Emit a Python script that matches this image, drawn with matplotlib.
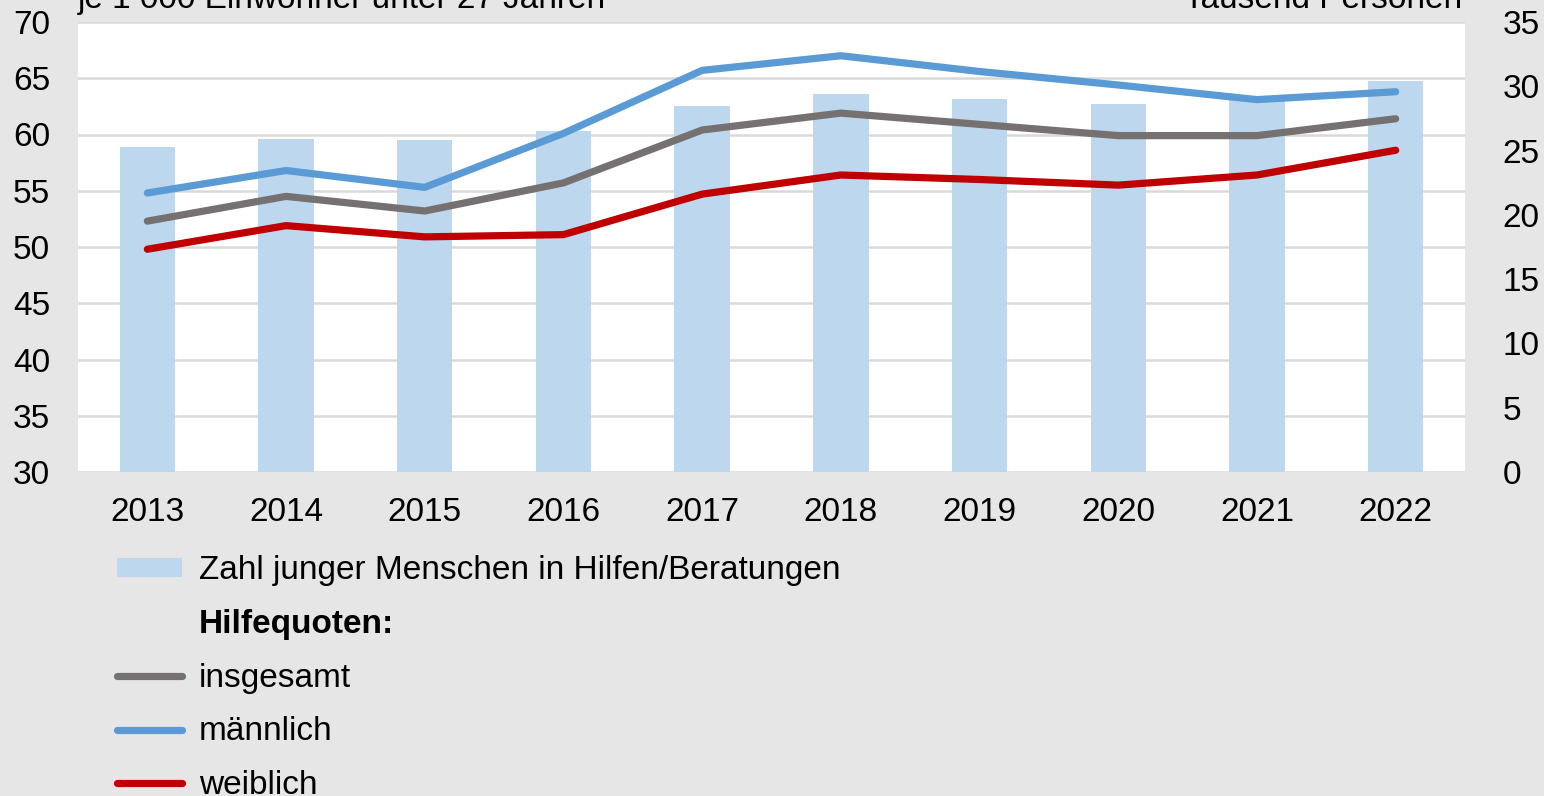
import matplotlib.pyplot as plt
from matplotlib.lines import Line2D
from matplotlib.patches import Patch
import numpy as np

plt.rcParams['font.family'] = ['Liberation Sans', 'DejaVu Sans']

# data
years = ['2013', '2014', '2015', '2016', '2017', '2018', '2019', '2020', '2021', '2022']
anzahl = [25.3, 25.9, 25.8, 26.5, 28.5, 29.4, 29.0, 28.6, 29.0, 30.4]   # Tausend Personen
insgesamt = [52.3, 54.5, 53.2, 55.7, 60.4, 61.9, 60.9, 59.9, 59.9, 61.4]
maennlich = [54.8, 56.8, 55.3, 60.1, 65.7, 67.0, 65.6, 64.4, 63.1, 63.8]
weiblich = [49.8, 51.9, 50.9, 51.1, 54.7, 56.4, 56.0, 55.5, 56.4, 58.6]

bg = '#e6e6e6'
c_bar = '#bdd7ee'
c_gray = '#767171'
c_blue = '#5b9bd5'
c_red = '#c00000'
fs = 24

W, H = 1544, 796
fig = plt.figure(figsize=(W / 100, H / 100), dpi=100, facecolor=bg)
ax = fig.add_axes([78 / W, 1 - 472 / H, (1465 - 78) / W, (472 - 22) / H])
ax2 = ax.twinx()

x = np.arange(len(years))

# bars on right axis (Tausend Personen)
ax2.bar(x, anzahl, width=0.4, color=c_bar, zorder=1)
ax2.set_ylim(0, 35)
ax2.set_yticks(range(0, 36, 5))

ax.set_ylim(30, 70)
ax.set_yticks(range(30, 71, 5))
ax.set_xlim(-0.5, len(years) - 0.5)
ax.set_xticks(x)
ax.set_xticklabels(years)

# line axis above bar axis; white background + grid on the bar axis
ax.set_zorder(ax2.get_zorder() + 1)
ax.patch.set_visible(False)
ax2.patch.set_facecolor('white')
ax2.patch.set_visible(True)
for v in range(30, 71, 5):
    ax2.axhline((v - 30) * 35 / 40, color='#d9d9d9', linewidth=1.8, zorder=0)

lw = 5.2
ax.plot(x, insgesamt, color=c_gray, linewidth=lw, solid_capstyle='round', zorder=3)
ax.plot(x, maennlich, color=c_blue, linewidth=lw, solid_capstyle='round', zorder=3)
ax.plot(x, weiblich, color=c_red, linewidth=lw, solid_capstyle='round', zorder=3)

for a in (ax, ax2):
    for s in a.spines.values():
        s.set_visible(False)
    a.tick_params(length=0, labelsize=fs, colors='black')
ax.tick_params(axis='x', pad=18)
ax.tick_params(axis='y', pad=20)
ax2.tick_params(axis='y', pad=27)

fig.text(78 / W, 1 - 8 / H, 'je 1 000 Einwohner unter 27 Jahren', fontsize=fs,
         ha='left', va='baseline')
fig.text(1462 / W, 1 - 8 / H, 'Tausend Personen', fontsize=fs,
         ha='right', va='baseline')

handles = [
    Patch(facecolor=c_bar, edgecolor='none'),
    Line2D([], [], color='none'),
    Line2D([], [], color=c_gray, linewidth=5.2, solid_capstyle='round'),
    Line2D([], [], color=c_blue, linewidth=5.2, solid_capstyle='round'),
    Line2D([], [], color=c_red, linewidth=5.2, solid_capstyle='round'),
]
labels = ['Zahl junger Menschen in Hilfen/Beratungen', 'Hilfequoten:',
          'insgesamt', 'männlich', 'weiblich']
leg = fig.legend(handles, labels, loc='upper left', bbox_to_anchor=(104 / W, 1 - 542 / H),
                 frameon=False, fontsize=fs, handlelength=1.95, handleheight=0.5,
                 handletextpad=0.5, labelspacing=0.68, borderaxespad=0)
leg.get_texts()[1].set_fontweight('bold')

fig.savefig('out.png', dpi=100, facecolor=bg)
